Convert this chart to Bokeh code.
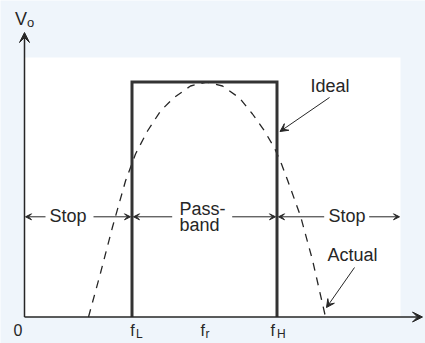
from bokeh.plotting import figure
from bokeh.models import Range1d, Arrow, VeeHead
from bokeh.core.properties import value
from bokeh.embed import file_html
from bokeh.resources import INLINE

# ---- data (frequency units along x, output voltage along y) ----
f_L = 107.5
f_r = 178.0
f_H = 252.5
v_max = 235.0

ideal_f = [f_L, f_L, f_H, f_H]
ideal_v = [0, v_max, v_max, 0]

actual_f = [64, 76, 88, 101, 111, 123, 136, 149, 166, 182,
            198, 215, 228, 240, 250, 257, 263, 276, 288, 301]
actual_v = [0, 44, 90, 136, 163, 186, 206, 219, 231, 235,
            231, 219, 203, 186, 169, 153, 137, 101, 57, 0]

tick_pos = [f_L, f_r, f_H]
tick_main = ["f", "f", "f"]
tick_sub = ["L", "r", "H"]
zero_label = "0"

f_axis_end = 398
v_axis_end = 284.5
panel_right = 376
panel_top = 259.5

band_level = 100.2
stop_left_x0 = [21, 69]
stop_left_x1 = [1, 106]
pass_x0 = [147.7, 207.7]
pass_x1 = [109, 251]
stop_right_x0 = [299.7, 344.7]
stop_right_x1 = [254, 375]

BG = "#eff5fb"
INK = "#262626"
FONT = value("Liberation Sans")
DY = 8.5  # baseline correction for the text glyphs

p = figure(width=425, height=343,
           x_range=Range1d(-24, 401), y_range=Range1d(-26.5, 316.5),
           output_backend="svg", toolbar_location=None, min_border=0,
           x_axis_type=None, y_axis_type=None,
           background_fill_color=BG, border_fill_color=BG,
           outline_line_color=None)
p.grid.visible = False

# white panel
p.quad(left=[0], right=[panel_right], bottom=[0], top=[panel_top],
       fill_color="white", line_color=None)

# actual response (dashed)
p.line(actual_f, actual_v, line_color=INK, line_width=1.3, line_dash="8 7")

# ideal response
p.line(ideal_f, ideal_v, line_color="#333333", line_width=3, line_join="miter")

# axes with arrows
p.add_layout(Arrow(end=VeeHead(size=10, fill_color=INK, line_color=INK),
                   x_start=0, y_start=0, x_end=0, y_end=v_axis_end,
                   line_color=INK, line_width=1.5))
p.add_layout(Arrow(end=VeeHead(size=10, fill_color=INK, line_color=INK),
                   x_start=0, y_start=0, x_end=f_axis_end, y_end=0,
                   line_color=INK, line_width=1.5))

# band arrows
for x0s, x1s in ((stop_left_x0, stop_left_x1), (pass_x0, pass_x1),
                 (stop_right_x0, stop_right_x1)):
    for a, b in zip(x0s, x1s):
        p.add_layout(Arrow(end=VeeHead(size=6, fill_color=INK, line_color=INK),
                           x_start=a, y_start=band_level, x_end=b, y_end=band_level,
                           line_color=INK, line_width=1))

# callout arrows
p.add_layout(Arrow(end=VeeHead(size=8, fill_color=INK, line_color=INK),
                   x_start=305, y_start=219.5, x_end=255.5, y_end=185.5,
                   line_color=INK, line_width=1))
p.add_layout(Arrow(end=VeeHead(size=8, fill_color=INK, line_color=INK),
                   x_start=330, y_start=49.5, x_end=302, y_end=9.5,
                   line_color=INK, line_width=1))

# labels
lab = dict(text_font=FONT, text_color=INK, text_font_size="18px",
           text_align="left", text_baseline="alphabetic")
p.text(x=[25, 304], y=[92.5 + DY, 92.5 + DY], text=["Stop", "Stop"], **lab)
p.text(x=[155, 155], y=[99.8 + DY, 83.8 + DY], text=["Pass-", "band"], **lab)
p.text(x=[286], y=[223 + DY], text=["Ideal"], **lab)
p.text(x=[303], y=[53.5 + DY], text=["Actual"], **lab)

# axis titles
p.text(x=[-9.5], y=[289.5 + DY], text=["V"], **lab)
p.text(x=[2.5], y=[286.5 + DY], text=["o"], text_font=FONT, text_color=INK,
       text_font_size="13px", text_baseline="alphabetic")

# tick labels
tk = dict(text_font=FONT, text_color=INK, text_font_size="16px",
          text_baseline="alphabetic")
p.text(x=[-6.5], y=[-21.5 + DY], text=[zero_label], text_align="center", **tk)
main_off = [-1.7, -2.0, -6.5]
sub_off = [4.0, 3.0, 0.0]
p.text(x=[t + o for t, o in zip(tick_pos, main_off)], y=[-21.5 + DY] * 3,
       text=tick_main, text_align="left", **tk)
p.text(x=[t + o for t, o in zip(tick_pos, sub_off)], y=[-25.5 + DY] * 3,
       text=tick_sub, text_align="left", text_font=FONT, text_color=INK,
       text_font_size="12px", text_baseline="alphabetic")

open("out.html", "w").write(file_html(p, INLINE))
